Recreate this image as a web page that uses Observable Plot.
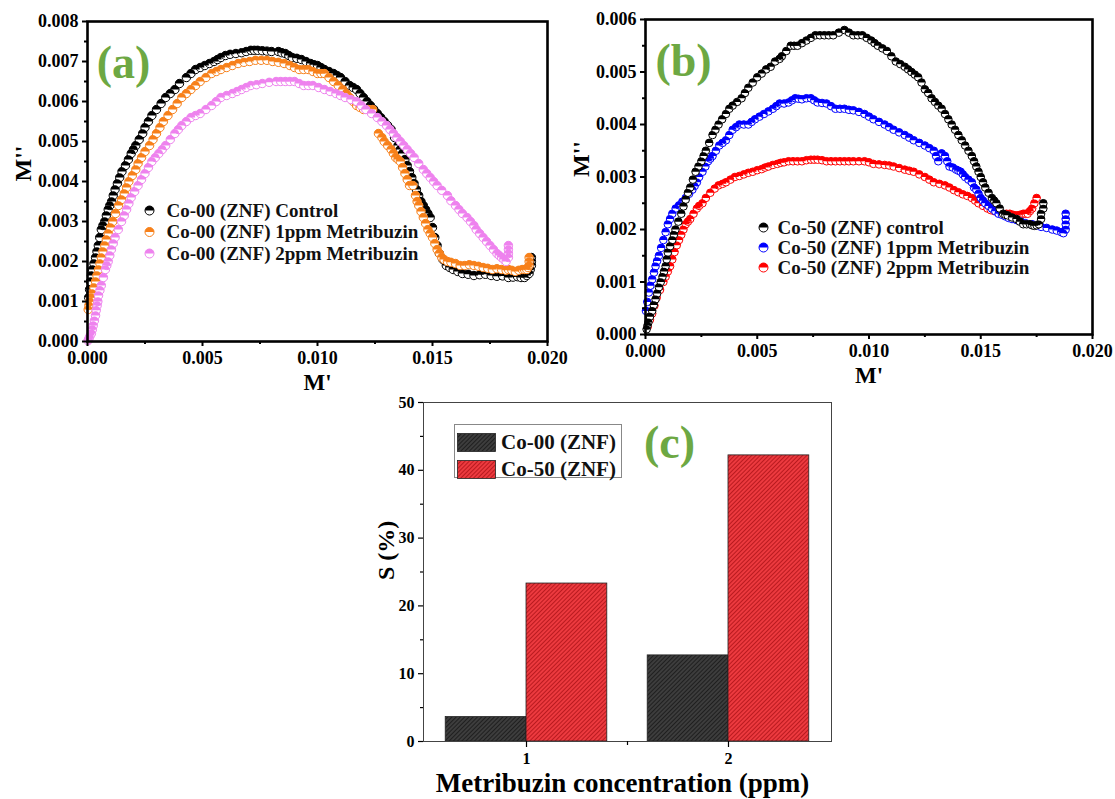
<!DOCTYPE html>
<html><head><meta charset="utf-8">
<script src="https://cdn.jsdelivr.net/npm/d3@7"></script>
<script src="https://cdn.jsdelivr.net/npm/@observablehq/plot@0.6"></script>
<style>
body{margin:0;background:#fff;}
#root{position:relative;width:1115px;height:799px;overflow:hidden;background:#fff;font-family:"Liberation Serif","Times New Roman",serif;}
.panel{position:absolute;}
#legc{position:absolute;border:1px solid #888;background:#fff;font-weight:bold;font-size:21px;color:#111;}
#legc .row{position:absolute;left:2px;display:flex;align-items:center;}
#legc svg{display:block;margin-right:5px;}
</style></head><body>
<svg width="0" height="0" style="position:absolute">
<defs>
<pattern id="hatchRed" patternUnits="userSpaceOnUse" width="3" height="3" patternTransform="rotate(45)">
<rect width="3" height="3" fill="#ec3a3f"/>
<line x1="0.5" y1="0" x2="0.5" y2="3" stroke="#b3161c" stroke-width="0.9"/>
</pattern>
<pattern id="hatchBlack" patternUnits="userSpaceOnUse" width="3" height="3" patternTransform="rotate(45)">
<rect width="3" height="3" fill="#3d3d3d"/>
<line x1="0.5" y1="0" x2="0.5" y2="3" stroke="#1c1c1c" stroke-width="0.9"/>
</pattern>
</defs>
</svg>
<div id="root">
<div class="panel" id="pc" style="left:330px;top:380px;width:530px;"></div>
<div class="panel" id="pb" style="left:560px;top:0;width:555px;"></div>
<div class="panel" id="pa" style="left:0;top:0;width:560px;"></div>
<div id="legc" style="left:454px;top:424px;width:166px;height:52px;"></div>
</div>
<script>
// ---------- Panel (a): Co-00 (ZNF) modulus plots [M', M''] ----------
const aNames = ["Co-00 (ZNF) Control", "Co-00 (ZNF) 1ppm Metribuzin", "Co-00 (ZNF) 2ppm Metribuzin"];
const aColors = ["#000000", "#f7801a", "#ee82ee"];
const aControl = [[0.00005,0.0011],[0.00009,0.0013],[0.00013,0.0015],[0.00017,0.00165],[0.00022,0.0018],[0.00028,0.00195],[0.00035,0.0021],[0.00041,0.00225],[0.00047,0.0024],[0.00053,0.0026],[0.0006,0.0028],[0.00067,0.0029],[0.00075,0.0030],[0.00082,0.00315],[0.0009,0.0033],[0.00097,0.0034],[0.00105,0.0035],[0.00112,0.00365],[0.0012,0.0038],[0.0013,0.00395],[0.0014,0.0041],[0.0015,0.00425],[0.00165,0.0044],[0.00178,0.00455],[0.0019,0.0047],[0.0020,0.0048],[0.0021,0.0049],[0.00225,0.00505],[0.0024,0.0052],[0.0025,0.00535],[0.00265,0.0055],[0.0028,0.00565],[0.0030,0.0058],[0.0032,0.00595],[0.0034,0.0061],[0.0036,0.0062],[0.0038,0.0063],[0.0040,0.00645],[0.0043,0.0066],[0.0045,0.0067],[0.0047,0.0068],[0.0049,0.00685],[0.0051,0.0069],[0.0053,0.00695],[0.0055,0.0070],[0.00565,0.00705],[0.0058,0.0071],[0.0060,0.00715],[0.0062,0.00718],[0.00645,0.0072],[0.0067,0.00722],[0.0069,0.00725],[0.0071,0.00728],[0.00725,0.00728],[0.0074,0.00728],[0.0076,0.00727],[0.0078,0.00726],[0.0080,0.00725],[0.0083,0.00725],[0.00845,0.00722],[0.0086,0.0072],[0.00875,0.00715],[0.0089,0.0071],[0.0091,0.00708],[0.0093,0.00705],[0.0095,0.0070],[0.0097,0.00695],[0.00985,0.00692],[0.0100,0.0069],[0.01015,0.00685],[0.0103,0.0068],[0.0105,0.00675],[0.0107,0.0067],[0.01085,0.00665],[0.0110,0.0066],[0.0112,0.0065],[0.0114,0.0064],[0.01155,0.00635],[0.0117,0.0063],[0.01185,0.0062],[0.0120,0.0061],[0.01215,0.0060],[0.0123,0.0059],[0.01245,0.0058],[0.0126,0.0057],[0.01275,0.0056],[0.0129,0.0055],[0.01305,0.0054],[0.0132,0.0053],[0.01335,0.0051],[0.0135,0.0049],[0.0136,0.0048],[0.0137,0.0047],[0.0138,0.00455],[0.0139,0.0044],[0.0140,0.00425],[0.0141,0.0041],[0.0142,0.00395],[0.0143,0.0038],[0.0144,0.00365],[0.0145,0.0035],[0.0146,0.0034],[0.0147,0.0033],[0.0148,0.0032],[0.0149,0.0031],[0.0150,0.00285],[0.0151,0.0026],[0.0152,0.0024],[0.0153,0.0022],[0.01545,0.00205],[0.0156,0.0019],[0.01575,0.00185],[0.0159,0.0018],[0.0161,0.00175],[0.0163,0.0017],[0.01655,0.00168],[0.0168,0.00165],[0.01705,0.00167],[0.0173,0.00168],[0.01755,0.00165],[0.0178,0.00163],[0.01805,0.00164],[0.0183,0.0016],[0.0185,0.00161],[0.0187,0.00162],[0.01885,0.0016],[0.0190,0.0016],[0.0191,0.00165],[0.0192,0.0017],[0.01925,0.0018],[0.0193,0.0019],[0.0193,0.0020],[0.0193,0.0021]];
const aOne = [[0.00003,0.0008],[0.00006,0.0009],[0.0001,0.0010],[0.00015,0.0011],[0.0002,0.0012],[0.00028,0.00135],[0.00035,0.0015],[0.00041,0.00165],[0.00048,0.0018],[0.00054,0.00195],[0.0006,0.0021],[0.00067,0.00225],[0.00075,0.0024],[0.00082,0.00255],[0.0009,0.0027],[0.0010,0.00285],[0.0011,0.0030],[0.00122,0.0032],[0.00135,0.0034],[0.00148,0.00355],[0.0016,0.0037],[0.0017,0.00385],[0.0018,0.0040],[0.00195,0.00415],[0.0021,0.0043],[0.0022,0.00445],[0.00235,0.0046],[0.0025,0.00475],[0.0027,0.0049],[0.00285,0.00505],[0.0030,0.0052],[0.00315,0.00535],[0.0033,0.0055],[0.0035,0.00565],[0.0037,0.0058],[0.0039,0.00595],[0.0041,0.0061],[0.0043,0.0062],[0.0045,0.0063],[0.0047,0.0064],[0.0049,0.0065],[0.00515,0.0066],[0.0054,0.0067],[0.0056,0.00675],[0.0058,0.0068],[0.00605,0.00685],[0.0063,0.0069],[0.00655,0.00695],[0.0068,0.00698],[0.00705,0.0070],[0.0073,0.00703],[0.00755,0.00703],[0.0078,0.00703],[0.00805,0.0070],[0.0083,0.00698],[0.00855,0.00695],[0.0088,0.0069],[0.0090,0.00685],[0.0092,0.0068],[0.0094,0.0068],[0.0096,0.0068],[0.0098,0.00675],[0.0100,0.0067],[0.01015,0.0067],[0.0103,0.0067],[0.0105,0.0066],[0.0107,0.0065],[0.0109,0.0064],[0.0111,0.0063],[0.01125,0.0062],[0.0114,0.0061],[0.01155,0.0060],[0.0117,0.0059],[0.01185,0.00585],[0.0120,0.0058],[0.0122,0.0058],[0.0124,0.0058],[0.01265,0.0052],[0.0128,0.0051],[0.0129,0.0050],[0.01305,0.0049],[0.0132,0.0048],[0.0133,0.0047],[0.0134,0.0046],[0.0135,0.00455],[0.0136,0.0045],[0.0137,0.00435],[0.0138,0.0042],[0.0139,0.00405],[0.0140,0.0039],[0.01415,0.0039],[0.01426,0.00365],[0.01433,0.0035],[0.0144,0.0034],[0.0145,0.00325],[0.0146,0.0031],[0.0147,0.00295],[0.0148,0.0028],[0.0149,0.0027],[0.0150,0.0026],[0.0151,0.00245],[0.0152,0.0023],[0.0153,0.0022],[0.0154,0.0021],[0.0155,0.00205],[0.01565,0.0020],[0.0158,0.00198],[0.0160,0.00195],[0.0162,0.0019],[0.0164,0.0019],[0.0166,0.00192],[0.0168,0.0019],[0.0170,0.00188],[0.0172,0.00185],[0.0174,0.00183],[0.0176,0.0018],[0.0178,0.00182],[0.0180,0.0018],[0.0182,0.00178],[0.0183,0.0018],[0.01845,0.00178],[0.0186,0.00175],[0.01875,0.00178],[0.0189,0.0018],[0.0190,0.0018],[0.0191,0.0018],[0.01915,0.00185],[0.0192,0.0019],[0.0192,0.0020],[0.0192,0.0021]];
const aTwo = [[0.00002,0.00002],[0.00005,0.00005],[0.00008,0.0001],[0.00012,0.00015],[0.00017,0.0002],[0.00021,0.0003],[0.00025,0.0004],[0.0003,0.00052],[0.00035,0.00065],[0.00038,0.00078],[0.00042,0.0009],[0.00045,0.0010],[0.00048,0.00115],[0.00054,0.00128],[0.0006,0.0014],[0.00069,0.0016],[0.00078,0.0018],[0.00084,0.0019],[0.0009,0.0020],[0.00097,0.00215],[0.00104,0.0023],[0.00112,0.00245],[0.0012,0.0026],[0.00134,0.0028],[0.00148,0.0030],[0.0016,0.00315],[0.0017,0.0033],[0.0018,0.00345],[0.0019,0.0036],[0.00205,0.00375],[0.0022,0.0039],[0.00235,0.00405],[0.0025,0.0042],[0.00265,0.00435],[0.0028,0.0045],[0.00295,0.0046],[0.0031,0.0047],[0.00325,0.0048],[0.0034,0.0049],[0.0036,0.00505],[0.0038,0.0052],[0.00395,0.0053],[0.0041,0.0054],[0.0043,0.0055],[0.0045,0.0056],[0.0047,0.00565],[0.0049,0.0057],[0.00515,0.0058],[0.0054,0.0059],[0.0056,0.0060],[0.0058,0.0061],[0.00605,0.00615],[0.0063,0.0062],[0.0065,0.00625],[0.0067,0.0063],[0.0069,0.00635],[0.0071,0.0064],[0.00735,0.00642],[0.0076,0.00645],[0.0079,0.00648],[0.0082,0.0065],[0.0084,0.0065],[0.0086,0.0065],[0.0088,0.0065],[0.0090,0.0065],[0.0092,0.00645],[0.0094,0.0064],[0.0096,0.0064],[0.0098,0.0064],[0.01005,0.00635],[0.0103,0.0063],[0.01055,0.00625],[0.0108,0.0062],[0.0110,0.00615],[0.0112,0.0061],[0.01145,0.00605],[0.0117,0.0060],[0.0119,0.0059],[0.0121,0.0058],[0.01235,0.0057],[0.0126,0.0056],[0.0128,0.0055],[0.0130,0.0054],[0.01315,0.0053],[0.0133,0.0052],[0.01345,0.0051],[0.0136,0.0050],[0.01375,0.0049],[0.0139,0.0048],[0.01405,0.0047],[0.0142,0.0046],[0.0144,0.00445],[0.0146,0.0043],[0.01475,0.0042],[0.0149,0.0041],[0.01505,0.0040],[0.0152,0.0039],[0.0154,0.00378],[0.01565,0.00365],[0.0158,0.00352],[0.0160,0.0034],[0.01615,0.0033],[0.0163,0.0032],[0.0165,0.0031],[0.01665,0.0030],[0.0168,0.0029],[0.0169,0.0028],[0.01705,0.0027],[0.0172,0.0026],[0.01735,0.0025],[0.0175,0.0024],[0.01765,0.0023],[0.0178,0.0022],[0.0179,0.00215],[0.0180,0.0021],[0.0181,0.00205],[0.0182,0.0020],[0.0183,0.0021],[0.0183,0.0022],[0.0183,0.0023],[0.0183,0.0024]];

// ---------- Panel (b): Co-50 (ZNF) modulus plots [M', M''] ----------
const bNames = ["Co-50 (ZNF) control", "Co-50 (ZNF) 1ppm Metribuzin", "Co-50 (ZNF) 2ppm Metribuzin"];
const bColors = ["#000000", "#0000ff", "#ff0000"];
const bControl = [[0.00005,0.0001],[0.00009,0.00017],[0.00013,0.00023],[0.0002,0.00034],[0.0003,0.00045],[0.00037,0.00056],[0.00045,0.00067],[0.00052,0.00078],[0.0006,0.0009],[0.00068,0.0010],[0.00076,0.0011],[0.00083,0.0012],[0.0009,0.0013],[0.00095,0.00143],[0.0010,0.00156],[0.0011,0.00168],[0.0012,0.0018],[0.00127,0.0019],[0.00134,0.0020],[0.00147,0.00215],[0.0016,0.0023],[0.0017,0.00244],[0.0018,0.00257],[0.0019,0.0027],[0.0020,0.0028],[0.00212,0.00295],[0.00224,0.0031],[0.00237,0.0032],[0.0025,0.0033],[0.0026,0.0034],[0.0027,0.0035],[0.00285,0.00365],[0.0030,0.0038],[0.00313,0.0039],[0.00327,0.0040],[0.00343,0.0041],[0.0036,0.0042],[0.00375,0.0043],[0.0039,0.00436],[0.0041,0.00443],[0.0043,0.0045],[0.00445,0.0046],[0.0046,0.0047],[0.0048,0.0048],[0.0050,0.0049],[0.0052,0.00497],[0.0054,0.00505],[0.0056,0.0051],[0.0058,0.0052],[0.0060,0.00525],[0.0061,0.0053],[0.0063,0.0054],[0.0065,0.0055],[0.00665,0.0055],[0.0068,0.0055],[0.0070,0.00555],[0.0072,0.0056],[0.0074,0.00565],[0.0076,0.0057],[0.0078,0.0057],[0.0080,0.0057],[0.0082,0.0057],[0.0084,0.0057],[0.00865,0.00575],[0.0089,0.0058],[0.0091,0.00575],[0.0093,0.0057],[0.0095,0.0057],[0.0097,0.0057],[0.0099,0.00565],[0.0101,0.0056],[0.01025,0.00555],[0.0104,0.0055],[0.0106,0.00545],[0.0108,0.0054],[0.0110,0.0053],[0.0112,0.0052],[0.0114,0.00515],[0.0116,0.0051],[0.01175,0.00505],[0.0119,0.0050],[0.01205,0.00495],[0.0122,0.0049],[0.01235,0.0048],[0.0125,0.00467],[0.01265,0.0046],[0.0128,0.0045],[0.01295,0.00443],[0.0131,0.00436],[0.01325,0.0043],[0.0134,0.0042],[0.01355,0.0041],[0.0137,0.0040],[0.01385,0.0039],[0.0140,0.0038],[0.01415,0.0037],[0.0143,0.0036],[0.01445,0.0035],[0.0146,0.0034],[0.0147,0.0033],[0.0148,0.0032],[0.0149,0.0031],[0.0150,0.0030],[0.0151,0.0029],[0.0152,0.0028],[0.01535,0.0027],[0.0155,0.0026],[0.0156,0.00255],[0.0157,0.0025],[0.01585,0.0024],[0.0160,0.0023],[0.0161,0.00228],[0.0162,0.00227],[0.0164,0.00223],[0.0166,0.0022],[0.01675,0.00215],[0.0169,0.0021],[0.01705,0.0021],[0.0172,0.0021],[0.0173,0.00208],[0.0174,0.00207],[0.0175,0.00208],[0.0176,0.0021],[0.0177,0.0022],[0.0177,0.0023],[0.0178,0.0024],[0.0178,0.0025]];
const bOne = [[0.00002,0.00045],[0.00008,0.00062],[0.00015,0.0008],[0.00022,0.00093],[0.0003,0.00105],[0.00038,0.00118],[0.00045,0.0013],[0.00052,0.0014],[0.0006,0.0015],[0.0007,0.00165],[0.0008,0.0018],[0.0009,0.00195],[0.0010,0.0021],[0.0011,0.0022],[0.0012,0.0023],[0.00135,0.0024],[0.0015,0.00246],[0.00165,0.00253],[0.0018,0.0026],[0.00195,0.00268],[0.0021,0.00276],[0.0022,0.00283],[0.0023,0.0029],[0.0024,0.0030],[0.00255,0.0031],[0.00268,0.0032],[0.0028,0.0033],[0.0029,0.00335],[0.0030,0.0034],[0.00315,0.0035],[0.0033,0.0036],[0.00345,0.00365],[0.0036,0.0037],[0.00375,0.0038],[0.0039,0.0039],[0.00405,0.00395],[0.0042,0.0040],[0.0044,0.0040],[0.0046,0.0040],[0.00475,0.00405],[0.0049,0.0041],[0.0051,0.00415],[0.0053,0.0042],[0.0055,0.00425],[0.0057,0.0043],[0.00585,0.00435],[0.0060,0.0044],[0.0062,0.0044],[0.0064,0.00442],[0.00655,0.00446],[0.0067,0.0045],[0.00685,0.00449],[0.0070,0.00448],[0.0072,0.0045],[0.0074,0.0045],[0.00755,0.00446],[0.0077,0.00442],[0.0079,0.00441],[0.0081,0.0044],[0.0083,0.00435],[0.0085,0.0043],[0.0087,0.0043],[0.0089,0.0043],[0.0091,0.00428],[0.0093,0.00427],[0.00955,0.00424],[0.0098,0.0042],[0.0100,0.00415],[0.0102,0.0041],[0.01045,0.00405],[0.0107,0.0040],[0.0109,0.00395],[0.0111,0.0039],[0.01135,0.00385],[0.0116,0.0038],[0.0118,0.00375],[0.0120,0.0037],[0.01225,0.00365],[0.0125,0.0036],[0.0127,0.00355],[0.0129,0.0035],[0.0130,0.0034],[0.0131,0.0033],[0.01325,0.00345],[0.0134,0.0034],[0.0135,0.0033],[0.0136,0.0032],[0.01375,0.00318],[0.0139,0.00314],[0.0140,0.00312],[0.0141,0.0031],[0.0142,0.00305],[0.0143,0.0030],[0.01445,0.00295],[0.0146,0.0029],[0.0147,0.0028],[0.0148,0.00276],[0.0149,0.00268],[0.0150,0.0026],[0.0151,0.00255],[0.0152,0.0025],[0.01535,0.00245],[0.0155,0.0024],[0.01565,0.00235],[0.0158,0.0023],[0.01595,0.00228],[0.0161,0.00225],[0.01625,0.00222],[0.0164,0.0022],[0.0166,0.00218],[0.0168,0.00215],[0.0170,0.00212],[0.0173,0.0021],[0.0175,0.00208],[0.0177,0.00205],[0.01795,0.00203],[0.0182,0.0020],[0.0184,0.00198],[0.0186,0.00195],[0.0187,0.00193],[0.0188,0.0020],[0.0188,0.0021],[0.0188,0.0022],[0.0188,0.0023]];
const bTwo = [[0.0001,0.00015],[0.0002,0.00028],[0.0003,0.0004],[0.0004,0.00055],[0.0005,0.0007],[0.00065,0.00085],[0.0008,0.0010],[0.0009,0.0011],[0.0010,0.0012],[0.0011,0.0013],[0.0012,0.00143],[0.0013,0.00157],[0.0014,0.0017],[0.0015,0.0018],[0.0016,0.0019],[0.0017,0.0020],[0.0018,0.0021],[0.0019,0.00215],[0.0020,0.0022],[0.00215,0.0023],[0.0023,0.0024],[0.0024,0.00245],[0.00255,0.0025],[0.0027,0.0026],[0.0029,0.0027],[0.0031,0.00278],[0.00327,0.00284],[0.00345,0.00287],[0.0036,0.0029],[0.0038,0.00295],[0.0040,0.0030],[0.0042,0.00302],[0.0044,0.00305],[0.0046,0.00308],[0.0048,0.0031],[0.0050,0.00313],[0.0052,0.00315],[0.00535,0.00318],[0.0055,0.0032],[0.0057,0.00323],[0.0059,0.00325],[0.00605,0.00327],[0.0062,0.00328],[0.0064,0.0033],[0.0066,0.0033],[0.0068,0.0033],[0.0070,0.0033],[0.0072,0.00332],[0.0074,0.00333],[0.00755,0.00333],[0.0077,0.00333],[0.0079,0.00332],[0.0081,0.0033],[0.0083,0.0033],[0.0085,0.0033],[0.0087,0.0033],[0.0089,0.0033],[0.0091,0.0033],[0.0093,0.0033],[0.00955,0.0033],[0.0098,0.0033],[0.0100,0.00328],[0.0102,0.00325],[0.01045,0.00324],[0.0107,0.00323],[0.0109,0.00322],[0.0111,0.0032],[0.01135,0.00317],[0.0116,0.00314],[0.0118,0.00312],[0.0120,0.0031],[0.01225,0.00305],[0.0125,0.0030],[0.0127,0.00295],[0.0129,0.0029],[0.01315,0.00287],[0.0134,0.00284],[0.0136,0.0028],[0.0138,0.00275],[0.0140,0.00271],[0.0142,0.00267],[0.0144,0.00264],[0.0146,0.0026],[0.01475,0.00255],[0.0149,0.0025],[0.0151,0.00245],[0.0153,0.0024],[0.01545,0.00237],[0.0156,0.00235],[0.0158,0.00232],[0.0160,0.0023],[0.01615,0.0023],[0.0163,0.0023],[0.01645,0.00228],[0.0166,0.00227],[0.01675,0.00228],[0.0169,0.0023],[0.0170,0.0023],[0.0171,0.0023],[0.0172,0.00235],[0.0173,0.0024],[0.0174,0.0025],[0.0175,0.0026]];

// ---------- Panel (c): sensitivity bars ----------
const concentrations = [1, 2];
const cGroups = ["Co-00 (ZNF)", "Co-50 (ZNF)"];
const co00 = [3.6, 12.7];
const co50 = [23.3, 42.2];
const cFills = ["url(#hatchBlack)", "url(#hatchRed)"];

// tick values
const nyXMajor = [0, 0.005, 0.01, 0.015, 0.02];
const nyXMinor = [0.0025, 0.0075, 0.0125, 0.0175];
const aYMajor = [0, 0.001, 0.002, 0.003, 0.004, 0.005, 0.006, 0.007, 0.008];
const aYMinor = [0.0005, 0.0015, 0.0025, 0.0035, 0.0045, 0.0055, 0.0065, 0.0075];
const bYMajor = [0, 0.001, 0.002, 0.003, 0.004, 0.005, 0.006];
const bYMinor = [0.0005, 0.0015, 0.0025, 0.0035, 0.0045, 0.0055];
const cYMajor = [0, 10, 20, 30, 40, 50];
const cYMinor = [5, 15, 25, 35, 45];

const GREEN = "#6da843";
const halfTop = {draw(ctx, size) { const r = Math.sqrt(size / Math.PI); ctx.moveTo(r, 0); ctx.arc(0, 0, r, 0, Math.PI, true); ctx.closePath(); }};
const fmt3 = d3.format(".3f");
const noText = () => "";
const svgStyle = (fs) => ({fontFamily: "'Liberation Serif','Times New Roman',serif", fontWeight: "bold", fontSize: fs, color: "#000", background: "transparent", overflow: "visible"});

function seriesMarks(layers, r) {
  return layers.flatMap(({data, color}) => [
    Plot.dot(data, {x: d => d[0], y: d => d[1], r, fill: "white", stroke: color, strokeWidth: 1}),
    Plot.dot(data, {x: d => d[0], y: d => d[1], r, symbol: halfTop, fill: color})
  ]);
}
function legendMarks(names, colors, o) {
  return names.flatMap((name, i) => [
    Plot.dot([name], {frameAnchor: "top-left", dx: o.dx, dy: o.dy + i * o.step, r: o.r, fill: "white", stroke: colors[i], strokeWidth: 1}),
    Plot.dot([name], {frameAnchor: "top-left", dx: o.dx, dy: o.dy + i * o.step, r: o.r, symbol: halfTop, fill: colors[i]}),
    Plot.text([name], {frameAnchor: "top-left", dx: o.tx, dy: o.dy + i * o.step, text: d => d, textAnchor: "start", lineAnchor: "middle", fontSize: o.fontSize, fill: "#111"})
  ]);
}
function nyquist(cfg) {
  return Plot.plot({
    width: cfg.width, height: 395,
    marginLeft: cfg.ml, marginRight: cfg.mr, marginTop: cfg.mt, marginBottom: 395 - cfg.bottom,
    x: {domain: [0, 0.02]}, y: {domain: [0, cfg.ymax]},
    style: svgStyle("18px"),
    marks: [
      ...seriesMarks(cfg.layers, cfg.r),
      ...legendMarks(cfg.names, cfg.colors, cfg.legend),
      Plot.axisX({ticks: nyXMajor, tickFormat: fmt3, tickSize: 5, tickPadding: 5, strokeWidth: 2, label: null, fontSize: 18}),
      Plot.axisX({ticks: nyXMinor, tickFormat: noText, tickSize: 3, strokeWidth: 2, label: null}),
      Plot.axisY({ticks: cfg.yMajor, tickFormat: fmt3, tickSize: 5, tickPadding: 4, strokeWidth: 2, label: null, fontSize: 18}),
      Plot.axisY({ticks: cfg.yMinor, tickFormat: noText, tickSize: 3, strokeWidth: 2, label: null}),
      Plot.frame({stroke: "#000", strokeWidth: 2.6}),
      Plot.text(["M'"], {text: d => d, frameAnchor: "bottom", dy: cfg.xlabDy, fontSize: 23, lineAnchor: "middle"}),
      Plot.text(["M''"], {text: d => d, frameAnchor: "left", dx: -64, rotate: -90, fontSize: 24, lineAnchor: "middle"}),
      Plot.text([cfg.tag], {text: d => d, frameAnchor: "top-left", dx: cfg.tagDx, dy: 42, fontSize: 46, fill: GREEN, textAnchor: "middle", lineAnchor: "middle"})
    ]
  });
}

document.getElementById("pa").append(nyquist({
  width: 560, ml: 87, mr: 13, mt: 21, bottom: 341, ymax: 0.008,
  yMajor: aYMajor, yMinor: aYMinor,
  layers: [{data: aControl, color: aColors[0]}, {data: aOne, color: aColors[1]}, {data: aTwo, color: aColors[2]}],
  names: aNames, colors: aColors, r: 4.2,
  legend: {dx: 62, tx: 79, dy: 189, step: 21.5, r: 4.5, fontSize: 19},
  xlabDy: 41, tag: "(a)", tagDx: 36
}));
document.getElementById("pb").append(nyquist({
  width: 555, ml: 85, mr: 23, mt: 19, bottom: 334, ymax: 0.006,
  yMajor: bYMajor, yMinor: bYMinor,
  layers: [{data: bTwo, color: bColors[2]}, {data: bOne, color: bColors[1]}, {data: bControl, color: bColors[0]}],
  names: bNames, colors: bColors, r: 3.8,
  legend: {dx: 118, tx: 132, dy: 208, step: 20, r: 4.5, fontSize: 19},
  xlabDy: 41, tag: "(b)", tagDx: 38
}));

// ---------- panel (c) ----------
const barRows = concentrations.flatMap((c, i) => [
  {c, group: cGroups[0], value: co00[i], side: -1},
  {c, group: cGroups[1], value: co50[i], side: 1}
]);
const half = 0.4;
const cPlot = Plot.plot({
  width: 530, height: 419, marginLeft: 93, marginRight: 29, marginTop: 22, marginBottom: 58,
  x: {domain: [0.49, 2.51]}, y: {domain: [0, 50]},
  style: svgStyle("16px"),
  marks: [
    ...cGroups.map((g, gi) => Plot.rectY(barRows.filter(d => d.group === g), {
      x1: d => d.side < 0 ? d.c - half : d.c, x2: d => d.side < 0 ? d.c : d.c + half,
      y: "value", fill: cFills[gi], stroke: "#222", strokeWidth: 0.8, inset: 0})),
    Plot.frame({stroke: "#444", strokeWidth: 1}),
    Plot.axisY({ticks: cYMajor, tickFormat: d3.format("d"), tickSize: 5, tickPadding: 4, strokeWidth: 1.2, label: null, fontSize: 16}),
    Plot.axisY({ticks: cYMinor, tickFormat: noText, tickSize: 3, strokeWidth: 1.2, label: null}),
    Plot.axisX({ticks: concentrations, tickFormat: d3.format("d"), tickSize: 6, tickPadding: 5, strokeWidth: 1.2, label: null, fontSize: 16}),
    Plot.axisX({ticks: [1.5], tickFormat: noText, tickSize: 4, strokeWidth: 1.2, label: null}),
    Plot.text(["Metribuzin concentration (ppm)"], {text: d => d, frameAnchor: "bottom", dy: 42, dx: -5, fontSize: 27, lineAnchor: "middle"}),
    Plot.text(["S (%)"], {text: d => d, frameAnchor: "left", dx: -37, dy: 8, rotate: -90, fontSize: 24, lineAnchor: "middle"}),
    Plot.text(["(c)"], {text: d => d, frameAnchor: "top-left", dx: 246, dy: 41, fontSize: 46, fill: GREEN, textAnchor: "middle", lineAnchor: "middle"})
  ]
});
document.getElementById("pc").append(cPlot);

// legend for (c)
const leg = document.getElementById("legc");
cGroups.forEach((g, i) => {
  const row = document.createElement("div");
  row.className = "row";
  row.style.top = (5 + i * 27) + "px";
  row.innerHTML = `<svg width="39" height="19"><rect x="0.5" y="0.5" width="38" height="18" fill="${cFills[i]}" stroke="#222" stroke-width="0.8"/></svg><span>${g}</span>`;
  leg.append(row);
});
</script>
</body></html>
